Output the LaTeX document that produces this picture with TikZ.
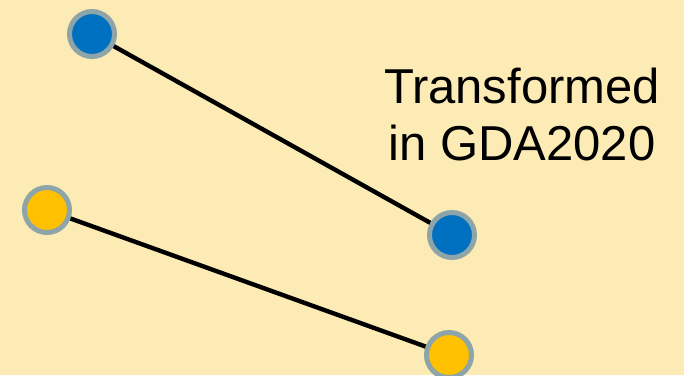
\documentclass[tikz,border=0pt]{standalone}
\usepackage{fontspec}
\setmainfont{Liberation Sans}
\definecolor{bgyellow}{HTML}{FDEBB5}
\definecolor{ptblue}{HTML}{0070C0}
\definecolor{ptyellow}{HTML}{FFC000}
\definecolor{ringgray}{HTML}{8DA5A8}
\pgfdeclarelayer{paper}
\pgfdeclarelayer{links}
\pgfsetlayers{paper,links,main}
\begin{document}
\begin{tikzpicture}[x=1pt,y=-1pt,
  pt/.style={circle,draw=ringgray,line width=5pt,minimum size=45pt,inner sep=0pt},
  link/.style={line width=4.4pt,black}]
\begin{pgfonlayer}{paper}
\fill[bgyellow] (0,0) rectangle (684,375);
\end{pgfonlayer}
\useasboundingbox (0,0) rectangle (684,375);
\clip (0,0) rectangle (684,375);
% points before and after the transformation
\node[pt,fill=ptblue] (b1) at (92,34) {};
\node[pt,fill=ptblue] (b2) at (452,235) {};
\node[pt,fill=ptyellow] (y1) at (47,210) {};
\node[pt,fill=ptyellow] (y2) at (449,355) {};
\begin{pgfonlayer}{links}
\draw[link] (b1.center) -- (b2.center);
\draw[link] (y1.center) -- (y2.center);
\end{pgfonlayer}
\node[align=center,font=\fontsize{49}{57}\selectfont,inner sep=0pt,anchor=base]
  (lbl) at (522,160) {Transformed\\in GDA2020};
\end{tikzpicture}
\end{document}
